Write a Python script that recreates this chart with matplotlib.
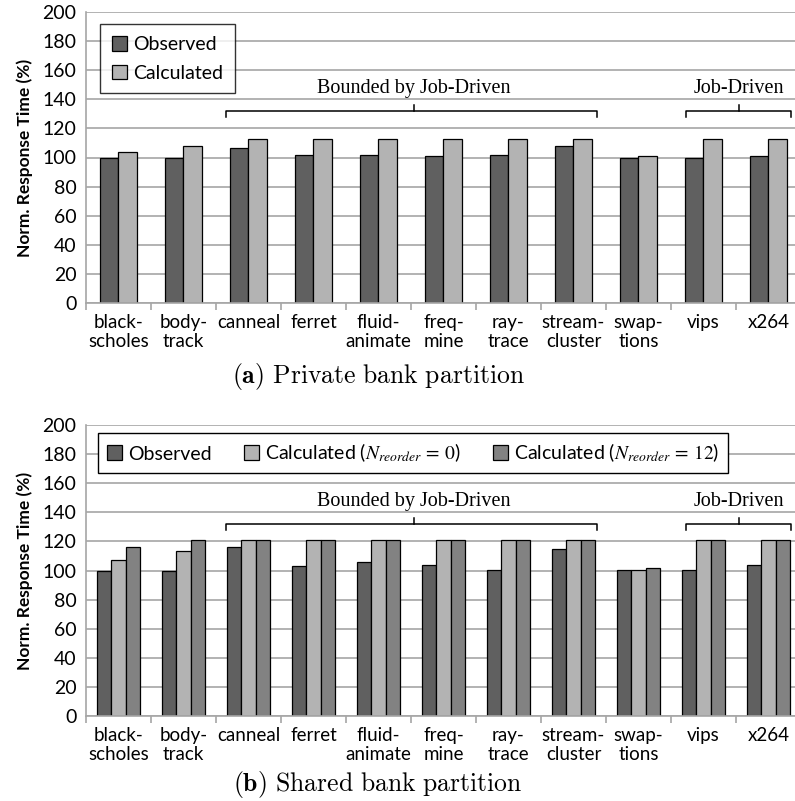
import matplotlib
matplotlib.use("Agg")
import matplotlib.pyplot as plt
import numpy as np

categories = ["black-\nscholes", "body-\ntrack", "canneal", "ferret", "fluid-\nanimate",
              "freq-\nmine", "ray-\ntrace", "stream-\ncluster", "swap-\ntions", "vips", "x264"]

# (a) Private bank partition
priv_observed = [100, 100, 106.7, 101.5, 101.5, 101, 101.5, 108, 100, 100, 101]
priv_calculated = [104, 108, 112.5, 112.5, 112.5, 112.5, 112.5, 112.5, 100.8, 112.5, 112.5]

# (b) Shared bank partition
shared_observed = [100, 100, 116.4, 103, 105.6, 103.8, 100.1, 114.8, 100.2, 100.2, 103.6]
shared_calc0 = [107.2, 113.6, 121, 121, 121, 121, 121, 121, 100.6, 121, 121]
shared_calc12 = [116, 121, 121, 121, 121, 121, 121, 121, 101.7, 121, 121]

yticks = [0, 20, 40, 60, 80, 100, 120, 140, 160, 180, 200]

plt.rcParams["mathtext.fontset"] = "stix"
SANS = ["Lato", "DejaVu Sans"]
C_OBS = "#606060"
C_CALC = "#b3b3b3"
C_CALC12 = "#828282"
GRID = "#a6a6a6"
FS = 13.5

fig = plt.figure(figsize=(7.95, 8.01), dpi=100)
ax1 = fig.add_axes([86/795, 1-303/801, 1-86/795, 291/801])
ax2 = fig.add_axes([86/795, 1-716/801, 1-86/795, 291/801])

x = np.arange(len(categories))


def style(ax):
    ax.set_ylim(0, 200)
    ax.set_xlim(-0.5, 10.408)
    ax.set_yticks(yticks)
    ax.set_yticklabels([str(v) for v in yticks], family=SANS, fontsize=14)
    ax.yaxis.grid(True, color=GRID, linewidth=1.2)
    ax.set_axisbelow(True)
    ax.tick_params(axis="y", length=0, pad=7)
    ax.set_xticks(x)
    ax.set_xticklabels(categories, family=SANS, fontsize=FS, linespacing=1.12)
    ax.set_xticks(np.arange(len(categories)) - 0.5, minor=True)
    ax.tick_params(axis="x", which="major", length=0, pad=8)
    ax.tick_params(axis="x", which="minor", length=5, color=GRID, direction="out", width=1.2)
    for s in ["top", "right"]:
        ax.spines[s].set_visible(False)
    for s in ["left", "bottom"]:
        ax.spines[s].set_color(GRID)
        ax.spines[s].set_linewidth(1.2)
    ax.set_ylabel("Norm. Response Time (%)", family=SANS, fontsize=12.5, fontweight="bold", labelpad=7)


def bracket(ax, x0, x1, xm, y, label):
    ax.plot([x0, x0, x1, x1], [y - 4, y, y, y - 4], color="black", lw=1.1, clip_on=False)
    ax.plot([xm, xm], [y, y + 4], color="black", lw=1.1, clip_on=False)
    ax.text(xm, 147.5, label, ha="center", va="center", family="Liberation Serif", fontsize=14.5)


# panel a
w = 0.288
ax1.bar(x - w/2, priv_observed, w, color=C_OBS, edgecolor="black", linewidth=0.9, label="Observed")
ax1.bar(x + w/2, priv_calculated, w, color=C_CALC, edgecolor="black", linewidth=0.9, label="Calculated")
style(ax1)
leg1 = ax1.legend(loc="upper left", bbox_to_anchor=(14/709, 1 - 12/291), prop={"family": SANS, "size": 14},
                  frameon=True, fancybox=False, edgecolor="black", handlelength=0.8, handleheight=0.8,
                  handletextpad=0.3, labelspacing=0.6, borderpad=0.6, borderaxespad=0)
leg1.get_frame().set_linewidth(1.0)
bracket(ax1, 1.654, 7.357, 4.55, 132, "Bounded by Job-Driven")
bracket(ax1, 8.73, 10.35, 9.55, 132, "Job-Driven")

# panel b
w2 = 0.223
ax2.bar(x - w2, shared_observed, w2, color=C_OBS, edgecolor="black", linewidth=0.9, label="Observed")
ax2.bar(x, shared_calc0, w2, color=C_CALC, edgecolor="black", linewidth=0.9,
        label=r"Calculated ($N_{reorder}\,=\,\mathit{0}$)")
ax2.bar(x + w2, shared_calc12, w2, color=C_CALC12, edgecolor="black", linewidth=0.9,
        label=r"Calculated ($N_{reorder}\,=\,\mathit{12}$)")
style(ax2)
leg2 = ax2.legend(loc="upper left", bbox_to_anchor=(12/709, 1 - 8/291), ncol=3, prop={"family": SANS, "size": 14},
                  frameon=True, fancybox=False, edgecolor="black", handlelength=0.8, handleheight=0.8,
                  handletextpad=0.3, columnspacing=1.65, borderpad=0.45, borderaxespad=0)
leg2.get_frame().set_linewidth(1.0)
leg2.get_frame().set_facecolor("white")
leg2.get_frame().set_alpha(1)
bracket(ax2, 1.654, 7.357, 4.55, 132, "Bounded by Job-Driven")
bracket(ax2, 8.73, 10.35, 9.55, 132, "Job-Driven")

fig.text(378/795, 1 - 376/801, r"$\mathbf{(a)}$ $\mathrm{Private\ bank\ partition}$",
         ha="center", va="center", fontsize=18.5, math_fontfamily="cm")
fig.text(378/795, 1 - 784/801, r"$\mathbf{(b)}$ $\mathrm{Shared\ bank\ partition}$",
         ha="center", va="center", fontsize=18.5, math_fontfamily="cm")

fig.savefig("out.png", dpi=100)
